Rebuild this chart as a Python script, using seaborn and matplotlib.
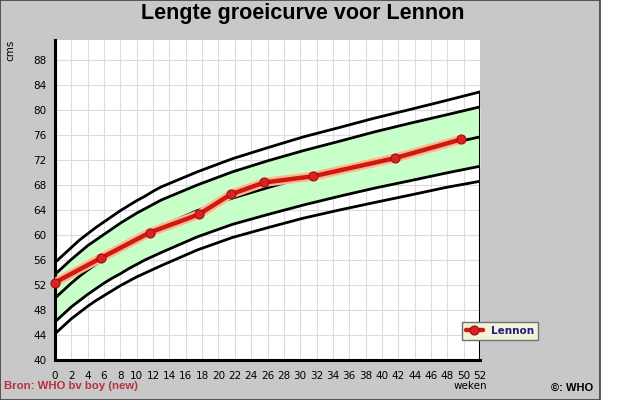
import matplotlib.pyplot as plt
import matplotlib.patches as mpatches
import seaborn as sns
import pandas as pd

sns.set_style('white')
plt.rcParams['font.family'] = ['DejaVu Sans']
plt.rcParams['text.color'] = 'black'
plt.rcParams['xtick.color'] = 'black'
plt.rcParams['ytick.color'] = 'black'

# WHO length-for-age, boys (weeks 0-13 weekly, then monthly)
who_weeks = [0, 1, 2, 3, 4, 5, 6, 7, 8, 9, 10, 11, 12, 13,
             17.4, 21.7, 26.1, 30.4, 34.8, 39.1, 43.5, 47.8, 52]
sd_min3 = [44.2, 45.4, 46.6, 47.6, 48.6, 49.5, 50.3, 51.1, 51.9, 52.6, 53.3, 53.9, 54.5, 55.1,
           57.6, 59.6, 61.2, 62.7, 64.0, 65.2, 66.4, 67.6, 68.6]
sd_min2 = [46.1, 47.3, 48.5, 49.5, 50.5, 51.4, 52.3, 53.1, 53.8, 54.6, 55.3, 56.0, 56.6, 57.2,
           59.7, 61.7, 63.3, 64.8, 66.2, 67.5, 68.7, 69.9, 71.0]
median = [49.9, 51.1, 52.3, 53.4, 54.4, 55.3, 56.2, 57.1, 57.9, 58.7, 59.4, 60.1, 60.8, 61.4,
          63.9, 65.9, 67.6, 69.2, 70.6, 72.0, 73.3, 74.5, 75.7]
sd_plus2 = [53.7, 54.9, 56.1, 57.2, 58.3, 59.2, 60.1, 61.0, 61.9, 62.7, 63.5, 64.2, 64.9, 65.6,
            68.0, 70.1, 71.9, 73.5, 75.0, 76.5, 77.9, 79.2, 80.5]
sd_plus3 = [55.6, 56.8, 58.0, 59.2, 60.2, 61.2, 62.1, 63.0, 63.9, 64.7, 65.5, 66.2, 67.0, 67.7,
            70.1, 72.2, 74.0, 75.7, 77.2, 78.7, 80.1, 81.5, 82.9]

# Lennon's measurements
lennon_weeks = [0, 5.6, 11.6, 17.6, 21.5, 25.6, 31.6, 41.6, 49.7]
lennon_cm = [52.4, 56.3, 60.4, 63.3, 66.5, 68.4, 69.4, 72.3, 75.3]

who = pd.DataFrame({'week': who_weeks, 'm3': sd_min3, 'm2': sd_min2, 'med': median,
                    'p2': sd_plus2, 'p3': sd_plus3})
lennon = pd.DataFrame({'week': lennon_weeks, 'cm': lennon_cm})

fig = plt.figure(figsize=(6.4, 4.0), dpi=100, facecolor='white')
# grey panel with a thin dark frame, white strip at the right
fig.patches.append(mpatches.Rectangle((0, 0), 600 / 640, 1, transform=fig.transFigure,
                                      facecolor='#c8c8c8', edgecolor='#404040', linewidth=1.2,
                                      zorder=-10))
ax = fig.add_axes([55 / 640, 40 / 400, 425 / 640, 320 / 400])
ax.set_zorder(1)
ax.set_facecolor('white')

# green band between -2SD and +2SD
ax.fill_between(who['week'], who['m2'], who['p2'], color='#c8ffc8', zorder=1, linewidth=0)
for col in ['m3', 'm2', 'med', 'p2', 'p3']:
    sns.lineplot(data=who, x='week', y=col, ax=ax, color='black', linewidth=2, zorder=2)
ax.vlines(52, 40, sd_plus3[-1], color='black', linewidth=2.2, zorder=2)

# Lennon's curve: light glow below a red line
sns.lineplot(data=lennon, x='week', y='cm', ax=ax, color='#ffb494', linewidth=6.5, zorder=3)
sns.lineplot(data=lennon, x='week', y='cm', ax=ax, color='#cc1a10', linewidth=3.2, zorder=4,
             marker='o', markersize=6.5, markerfacecolor='#dd2020', markeredgecolor='#9a1010',
             markeredgewidth=0.8, label='Lennon', clip_on=False)

ax.set_xlim(0, 52)
ax.set_ylim(40, 91.2)
ax.set_xticks(range(0, 53, 2))
ax.set_xticks(range(0, 53, 1), minor=True)
ax.set_yticks(range(40, 89, 4))
ax.set_yticks(range(40, 92, 2), minor=True)
ax.grid(True, which='major', color='#dcdcdc', linewidth=0.8, zorder=0)
ax.set_axisbelow(True)
ax.tick_params(axis='both', which='both', direction='in', length=4, width=1, labelsize=7.5,
               color='black', labelcolor='black')
ax.tick_params(axis='x', pad=8)
ax.tick_params(axis='y', pad=6)
ax.set_xlabel('')
ax.set_ylabel('')
for side in ['top', 'right']:
    ax.spines[side].set_visible(False)
for side in ['left', 'bottom']:
    ax.spines[side].set_linewidth(2.2)
    ax.spines[side].set_color('black')

ax.get_legend().remove()
handles, labels = ax.get_legend_handles_labels()
leg = fig.legend(handles[-1:], labels[-1:], loc='center', bbox_to_anchor=(500 / 640, 1 - 331 / 400),
                 frameon=True, fancybox=False, fontsize=7.5, handlelength=1.6, borderpad=0.35,
                 handletextpad=0.8, facecolor='#f2f2d8', edgecolor='#707070', framealpha=1)
leg.set_zorder(5)
for t in leg.get_texts():
    t.set_color('#1c1c80')
    t.set_fontweight('bold')

fig.text(303 / 640, 1 - 13 / 400, 'Lengte groeicurve voor Lennon', ha='center', va='center',
         fontsize=15.5, fontweight='bold', family='Liberation Sans', color='black')
fig.text(10 / 640, 1 - 50 / 400, 'cms', rotation=90, ha='center', va='center', fontsize=7.5)
fig.text(470 / 640, 1 - 386 / 400, 'weken', ha='center', va='center', fontsize=7.5)
fig.text(4 / 640, 1 - 386 / 400, 'Bron: WHO bv boy (new)', ha='left', va='center', fontsize=8.2,
         fontweight='bold', color='#b83040', family='Liberation Sans')
fig.text(593 / 640, 1 - 388 / 400, '\u00a9: WHO', ha='right', va='center', fontsize=8,
         fontweight='bold', color='black', family='Liberation Sans')

fig.savefig('out.png', dpi=100, facecolor='white')
